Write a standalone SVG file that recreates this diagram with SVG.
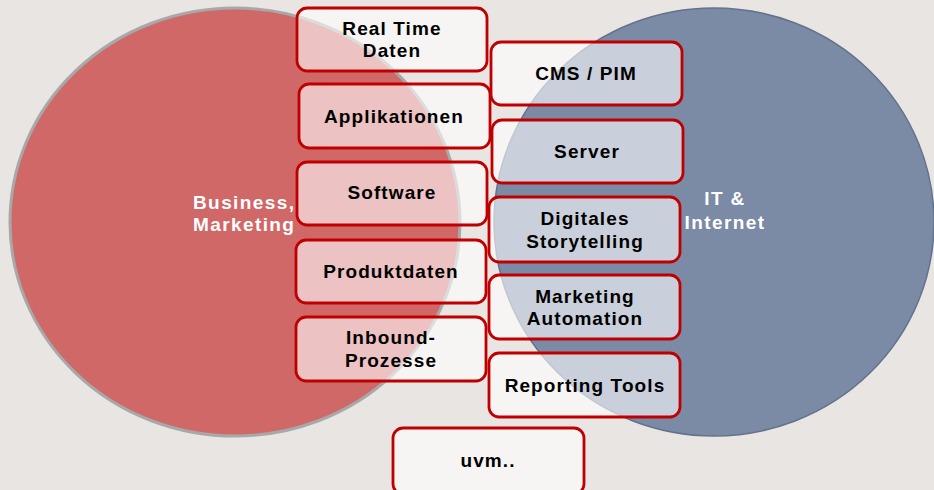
<svg xmlns="http://www.w3.org/2000/svg" width="934" height="490" viewBox="0 0 934 490">
<style>
.box{fill:#ffffff;fill-opacity:0.6;stroke:#c00000;stroke-width:2.8}
.t{font-family:"Liberation Sans",Arial,sans-serif;font-weight:bold;font-size:19px;letter-spacing:1.1px;fill:#000;text-anchor:middle}
.c{font-family:"Liberation Sans",Arial,sans-serif;font-weight:bold;font-size:19px;letter-spacing:1.4px;fill:#fff}
</style>
<rect width="934" height="490" fill="#e8e5e2"/>
<g id="circle-business">
<ellipse cx="235" cy="222" rx="225" ry="214" fill="#d16868" stroke="#a8a8a8" stroke-width="3"/>
<text class="c" x="193" y="209">Business,</text>
<text class="c" x="193" y="231">Marketing</text>
</g>
<g id="circle-it">
<ellipse cx="714" cy="222" rx="220" ry="214" fill="#7b8aa5" stroke="#64728c" stroke-width="1.5"/>
<text class="c" x="725" y="205" text-anchor="middle">IT &amp;</text>
<text class="c" x="725" y="229" text-anchor="middle">Internet</text>
</g>
<g id="connectors"></g>
<g id="n-realtime"><rect class="box" x="297" y="8" width="190" height="63" rx="10"/><text class="t" x="392" y="35">Real Time</text><text class="t" x="392" y="57">Daten</text></g>
<g id="n-cms"><rect class="box" x="491" y="42" width="191" height="63" rx="10"/><text class="t" x="586" y="80">CMS / PIM</text></g>
<g id="n-applikationen"><rect class="box" x="299" y="84" width="191" height="64" rx="10"/><text class="t" x="394" y="123">Applikationen</text></g>
<g id="n-server"><rect class="box" x="492" y="120" width="191" height="63" rx="10"/><text class="t" x="587" y="158">Server</text></g>
<g id="n-software"><rect class="box" x="297" y="162" width="190" height="63" rx="10"/><text class="t" x="392" y="199">Software</text></g>
<g id="n-storytelling"><rect class="box" x="489" y="197" width="191" height="65" rx="10"/><text class="t" x="585" y="225">Digitales</text><text class="t" x="585" y="248">Storytelling</text></g>
<g id="n-produktdaten"><rect class="box" x="296" y="240" width="190" height="63" rx="10"/><text class="t" x="391" y="278">Produktdaten</text></g>
<g id="n-automation"><rect class="box" x="489" y="275" width="191" height="64" rx="10"/><text class="t" x="585" y="303">Marketing</text><text class="t" x="585" y="325">Automation</text></g>
<g id="n-inbound"><rect class="box" x="296" y="317" width="190" height="64" rx="10"/><text class="t" x="391" y="344">Inbound-</text><text class="t" x="391" y="367">Prozesse</text></g>
<g id="n-reporting"><rect class="box" x="489" y="353" width="191" height="64" rx="10"/><text class="t" x="585" y="392">Reporting Tools</text></g>
<g id="n-uvm"><rect class="box" x="393" y="428" width="191" height="66" rx="10"/><text class="t" x="488" y="467">uvm..</text></g>
</svg>
